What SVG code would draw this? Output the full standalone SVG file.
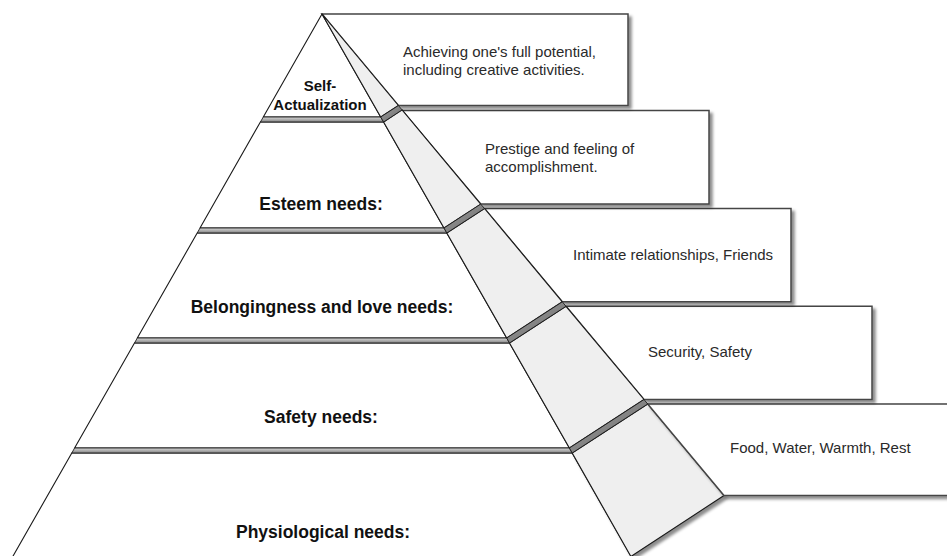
<svg xmlns="http://www.w3.org/2000/svg" width="947" height="556" viewBox="0 0 947 556">
  <style>
    .front { fill: #ffffff; stroke: #1a1a1a; stroke-width: 1.1; stroke-linejoin: round; }
    .side { fill: #efefef; stroke: #1a1a1a; stroke-width: 1.1; stroke-linejoin: round; }
    .box { fill: #ffffff; stroke: #454545; stroke-width: 1.5; stroke-linejoin: miter; filter: url(#shadow); }
    .tier-front { fill: url(#tierGrad); stroke: #1a1a1a; stroke-width: 0.9; }
    .tier-side { fill: url(#tierSideGrad); stroke: #1a1a1a; stroke-width: 0.9; }
    .label { font-family: "Liberation Sans", Arial, sans-serif; font-weight: bold; fill: #111; text-anchor: middle; }
    .desc { font-family: "Liberation Sans", Arial, sans-serif; font-size: 15px; fill: #2a2a2a; }
  </style>
  <defs>
    <filter id="shadow" x="-5%" y="-10%" width="115%" height="130%">
      <feDropShadow dx="3" dy="3" stdDeviation="1.6" flood-color="#000" flood-opacity="0.45"/>
    </filter>
    <linearGradient id="tierGrad" x1="0" y1="0" x2="0" y2="1">
      <stop offset="0" stop-color="#d8d8d8"/>
      <stop offset="1" stop-color="#858585"/>
    </linearGradient>
    <linearGradient id="tierSideGrad" x1="0" y1="0" x2="1" y2="1">
      <stop offset="0" stop-color="#9a9a9a"/>
      <stop offset="1" stop-color="#6e6e6e"/>
    </linearGradient>
  </defs>

  <rect width="947" height="556" fill="#ffffff"/>

  <!-- Level 5: physiological -->
  <g id="physiological">
    <polygon class="front" points="71.8,453 572.2,453 633.2,560 10.8,560"/>
    <polygon class="side" filter="url(#shadow)" points="572.2,453 647.7,404 724,495.5 630.9,556.5"/>
    <polygon class="box" points="647.7,404 960,404 960,495.5 724,495.5"/>
    <text class="label" x="323" y="538" font-size="17.5">Physiological needs:</text>
    <text class="desc" x="730" y="452.5">Food, Water, Warmth, Rest</text>
  </g>

  <!-- Level 4: safety -->
  <g id="safety">
    <polygon class="box" points="566,306.3 872,306.3 872,399.5 644,399.5"/>
    <polygon class="front" points="134.5,343 509.5,343 569.4,448 74.6,448"/>
    <polygon class="side" points="509.5,343 566,306.3 644,399.5 569.4,448"/>
    <text class="label" x="321" y="423" font-size="17.5">Safety needs:</text>
    <text class="desc" x="648" y="357">Security, Safety</text>
  </g>

  <!-- Level 3: belongingness and love -->
  <g id="belonging">
    <polygon class="box" points="484.5,208.5 791,208.5 791,301.8 562.3,301.8"/>
    <polygon class="front" points="197.2,233 446.8,233 506.7,338 137.3,338"/>
    <polygon class="side" points="446.8,233 484.5,208.5 562.3,301.8 506.7,338"/>
    <text class="label" x="322" y="313" font-size="17.5">Belongingness and love needs:</text>
    <text class="desc" x="573" y="259.5">Intimate relationships, Friends</text>
  </g>

  <!-- Level 2: esteem -->
  <g id="esteem">
    <polygon class="box" points="402.1,110.5 709,110.5 709,204 480.7,204"/>
    <polygon class="front" points="260.4,122 383.6,122 444,228 200,228"/>
    <polygon class="side" points="383.6,122 402.1,109.9 480.7,204.1 444,228"/>
    <text class="label" x="321" y="210" font-size="17.5">Esteem needs:</text>
    <text class="desc" x="485" y="153.5">Prestige and feeling of</text>
    <text class="desc" x="485" y="172">accomplishment.</text>
  </g>

  <!-- Level 1: self-actualization -->
  <g id="self-actualization">
    <polygon class="box" points="322,14 628,14 628,105.5 398.4,105.5"/>
    <polygon class="front" points="322,14 380.7,117 263.3,117"/>
    <polygon class="side" points="322,14 398.4,105.5 380.7,117"/>
    <text class="label" x="320" y="91" font-size="15">Self-</text>
    <text class="label" x="320" y="109.5" font-size="15">Actualization</text>
    <text class="desc" x="403" y="57">Achieving one's full potential,</text>
    <text class="desc" x="403" y="75">including creative activities.</text>
  </g>

  <!-- Slab edges between the tiers -->
  <g id="tiers">
    <polygon class="tier-front" points="263.3,117 380.7,117 383.6,122 260.4,122"/>
    <polygon class="tier-side" points="380.7,117 398.4,105.5 402.1,109.9 383.6,122"/>
    <polygon class="tier-front" points="200,228 444,228 446.8,233 197.2,233"/>
    <polygon class="tier-side" points="444,228 480.7,204.1 484.5,208.5 446.8,233"/>
    <polygon class="tier-front" points="137.3,338 506.7,338 509.5,343 134.5,343"/>
    <polygon class="tier-side" points="506.7,338 562.3,301.8 566,306.3 509.5,343"/>
    <polygon class="tier-front" points="74.6,448 569.4,448 572.2,453 71.8,453"/>
    <polygon class="tier-side" points="569.4,448 644,399.5 647.7,404 572.2,453"/>
  </g>
</svg>
